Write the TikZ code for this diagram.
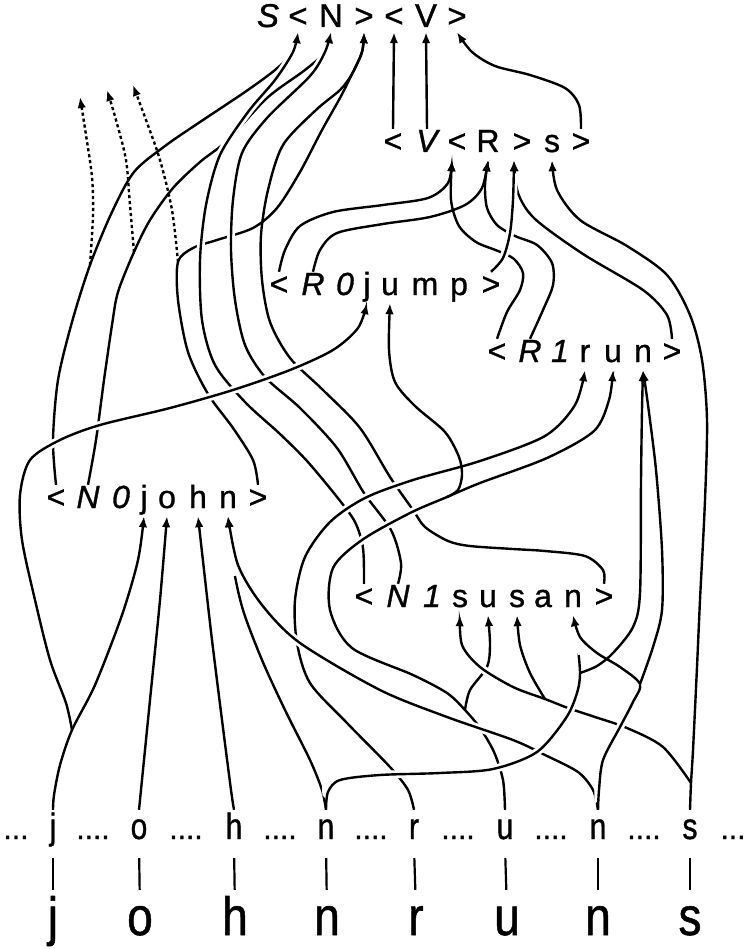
\documentclass[tikz,border=0pt]{standalone}
\usepackage{graphicx}
\usepackage{fontspec}
\setmainfont{Liberation Sans}[FakeBold=1]
\usetikzlibrary{arrows.meta}
\pgfdeclarelayer{bg}
\pgfsetlayers{bg,main}
\newcommand{\tallmid}[1]{\scalebox{1}[1.22]{#1}}
\newcommand{\tallbig}[1]{\scalebox{1}[1.17]{#1}}
\begin{document}
\begin{tikzpicture}[x=1pt,y=-1pt,
  chr/.style={anchor=base, inner sep=1pt, text height=22pt, text depth=7pt, font=\fontsize{32}{38}\selectfont},
  chrtop/.style={chr, text depth=4pt, font=\fontsize{33}{40}\selectfont},
  chrmid/.style={chr, text height=28pt, font=\fontsize{30}{36}\selectfont},
  chrbig/.style={chr, font=\fontsize{46}{54}\selectfont},
  strand/.style={line width=2.4pt, -{Latex[length=11pt,width=8.5pt]}},
  dotline/.style={strand, dash pattern=on 3.2pt off 2.8pt},
  halo/.style 2 args={preaction={draw=white, -, line width=8pt, shorten <=#1, shorten >=#2}},
  bar/.style={line width=2.2pt, shorten <=11pt, shorten >=22pt}]
\useasboundingbox (0,0) rectangle (747,949);
% ---------- top word ----------
\node[chrtop] (tS)   at (268,27) {\itshape S};
\node[chrtop] (tlt1) at (298,27) {<};
\node[chrtop] (tN)   at (331,27) {N};
\node[chrtop] (tgt1) at (364,27) {>};
\node[chrtop] (tlt2) at (394,27) {<};
\node[chrtop] (tV)   at (426,27) {V};
\node[chrtop] (tgt2) at (457,27) {>};
% ---------- <V<R>s> ----------
\node[chr] (vlt1) at (393,152) {<};
\node[chr] (vV)   at (427,152) {\itshape V};
\node[chr] (vlt2) at (457,152) {<};
\node[chr] (vR)   at (488,152) {R};
\node[chr] (vgt1) at (522,152) {>};
\node[chr] (vs)   at (552,152) {s};
\node[chr] (vgt2) at (581,152) {>};
% ---------- <R0jump> ----------
\node[chr] (alt) at (279,295) {<};
\node[chr] (aR)  at (313,295) {\itshape R};
\node[chr] (a0)  at (345,295) {\itshape 0};
\node[chr] (aj)  at (367,295) {j};
\node[chr] (au)  at (390,295) {u};
\node[chr] (am)  at (425,295) {m};
\node[chr] (ap)  at (459,295) {p};
\node[chr] (agt) at (491,295) {>};
% ---------- <R1run> ----------
\node[chr] (blt) at (497,362) {<};
\node[chr] (bR)  at (530,362) {\itshape R};
\node[chr] (b1)  at (560,362) {\itshape 1};
\node[chr] (br)  at (585,362) {r};
\node[chr] (bu)  at (613,362) {u};
\node[chr] (bn)  at (643,362) {n};
\node[chr] (bgt) at (672,362) {>};
% ---------- <N0john> ----------
\node[chr] (clt) at (56,508) {<};
\node[chr] (cN)  at (88,508) {\itshape N};
\node[chr] (c0)  at (121,508) {\itshape 0};
\node[chr] (cj)  at (144,508) {j};
\node[chr] (co)  at (167,508) {o};
\node[chr] (ch)  at (198,508) {h};
\node[chr] (cn)  at (228,508) {n};
\node[chr] (cgt) at (258,508) {>};
% ---------- <N1susan> ----------
\node[chr] (dlt) at (364,607) {<};
\node[chr] (dN)  at (398,607) {\itshape N};
\node[chr] (d1)  at (432,607) {\itshape 1};
\node[chr] (ds1) at (460,607) {s};
\node[chr] (du)  at (488,607) {u};
\node[chr] (ds2) at (517,607) {s};
\node[chr] (da)  at (543,607) {a};
\node[chr] (dn)  at (573,607) {n};
\node[chr] (dgt) at (604,607) {>};
% ---------- middle row ----------
\node[chrmid] (md0) at (16,839) {...};
\node[chrmid] (mj)  at (53,839) {\tallmid{j}};
\node[chrmid] (md1) at (93,839) {....};
\node[chrmid] (mo)  at (139,839) {\tallmid{o}};
\node[chrmid] (md2) at (186,839) {....};
\node[chrmid] (mh)  at (234,839) {\tallmid{h}};
\node[chrmid] (md3) at (280,839) {....};
\node[chrmid] (mn1) at (326,839) {\tallmid{n}};
\node[chrmid] (md4) at (371,839) {....};
\node[chrmid] (mr)  at (414,839) {\tallmid{r}};
\node[chrmid] (md5) at (458,839) {....};
\node[chrmid] (mu)  at (505,839) {\tallmid{u}};
\node[chrmid] (md6) at (551,839) {....};
\node[chrmid] (mn2) at (598,839) {\tallmid{n}};
\node[chrmid] (md7) at (644,839) {....};
\node[chrmid] (ms)  at (690,839) {\tallmid{s}};
\node[chrmid] (md8) at (733,839) {...};
% ---------- bottom word ----------
\node[chrbig] (wj)  at (53,935) {\tallbig{j}};
\node[chrbig] (wo)  at (140,935) {\tallbig{o}};
\node[chrbig] (wh)  at (235,935) {\tallbig{h}};
\node[chrbig] (wn1) at (327,935) {\tallbig{n}};
\node[chrbig] (wr)  at (416,935) {\tallbig{r}};
\node[chrbig] (wu)  at (507,935) {\tallbig{u}};
\node[chrbig] (wn2) at (598,935) {\tallbig{n}};
\node[chrbig] (ws)  at (690,935) {\tallbig{s}};
% ---------- junction coordinates ----------
\coordinate (jb)  at (72,730);
\coordinate (hu1) at (465,710);
\coordinate (hu2) at (447,497);
\coordinate (sm)  at (691,783);
\coordinate (sk)  at (545,699);
\coordinate (mm)  at (580,673);
\coordinate (nn)  at (640,684);
\coordinate (d1p) at (90,265);
\coordinate (d2p) at (134,252);
\coordinate (d3p) at (178,262);
\coordinate (e1)  at (80,97);
\coordinate (e2)  at (107,90);
\coordinate (e3)  at (133,85);
\begin{pgfonlayer}{bg}
\fill[white] (0,0) rectangle (747,949);
% bars
\foreach \a/\b in {mj/wj,mo/wo,mh/wh,mn1/wn1,mr/wr,mu/wu,mn2/wn2,ms/ws}
  \draw[bar] (\a.south) -- (\b.north);
% strands to the top word (under)
\draw[strand] plot[smooth] coordinates {(clt.north) (53,440) (58,380) (72,322) (d1p) (112,212) (134,172) (165,146) (200,122) (245,92) (275,70) (293,52) (tlt1.south)};
\draw[strand] plot[smooth] coordinates {(cN.north) (96,440) (104,380) (112,325) (118,292) (d2p) (150,220) (173,188) (200,162) (228,140) (267,98) (305,70) (325,52) (tN.south)};
\draw[strand] plot[smooth] coordinates {(cgt.north) (253,460) (233,428) (208,394) (188,352) (178,300) (d3p) (193,248) (217,240) (253,228) (277,208) (300,172) (322,130) (340,98) (352,74) (362,52) (tgt1.south)};
\draw[strand] plot[smooth] coordinates {(dgt.north) (603,570) (585,556) (545,551) (513,549) (470,546) (448,541) (425,527) (413,510) (390,477) (360,428) (323,390) (290,358) (270,322) (262,280) (261,235) (268,190) (283,145) (316,110) (340,90) (352,74) (362,52) (tgt1.south)};
\draw[dotline] plot[smooth] coordinates {(d1p) (93,215) (92,177) (86,135) (e1)};
\draw[dotline] plot[smooth] coordinates {(d2p) (130,205) (126,160) (116,120) (e2)};
\draw[dotline] plot[smooth] coordinates {(d3p) (172,210) (160,160) (146,120) (e3)};
\draw[strand, halo={14pt}{30pt}] plot[smooth] coordinates {(dlt.north) (363,548) (355,522) (337,497) (307,461) (280,434) (245,402) (215,365) (202,320) (200,260) (206,205) (220,155) (248,112) (275,80) (293,52) (tlt1.south)};
\draw[strand, halo={14pt}{30pt}] plot[smooth] coordinates {(dN.north) (401,563) (391,530) (364,493) (337,448) (300,408) (265,377) (245,345) (235,300) (231,250) (233,200) (242,153) (267,118) (310,76) (325,52) (tN.south)};
% into <N0john>
\draw[strand] plot[smooth] coordinates {(mj.north) (54,795) (60,765) (jb) (95,685) (122,615) (138,560) (cj.south)};
\draw[strand] plot[smooth] coordinates {(mo.north) (150,700) (160,600) (co.south)};
\draw[strand] plot[smooth] coordinates {(mh.north) (231,790) (222,720) (212,640) (204,570) (ch.south)};
\draw[strand] plot[smooth] coordinates {(mn1.north) (322,790) (310,760) (285,710) (262,660) (243,610) (233,565) (cn.south)};
% <V<R>s> to top
\draw[strand] (vlt1.north) -- (tlt2.south);
\draw[strand] (vV.north) -- (tV.south);
\draw[strand] plot[smooth] coordinates {(vgt2.north) (579,105) (565,88) (530,75) (495,66) (472,52) (tgt2.south)};
% into <V<R>s>
\draw[strand] plot[smooth] coordinates {(alt.north) (285,250) (300,226) (333,212) (383,205) (428,198) (448,183) ([xshift=-5pt]vlt2.south)};
\draw[strand] plot[smooth] coordinates {(aR.north) (320,250) (337,233) (383,224) (430,217) (465,205) (482,188) (vR.south)};
\draw[strand] plot[smooth] coordinates {(bR.north) (543,310) (553,285) (552,263) (537,245) (515,236) (497,225) (487,208) (485,185) (vR.south)};
\draw[strand] plot[smooth] coordinates {(blt.north) (507,312) (520,290) (523,273) (514,259) (498,251) (476,242) (459,226) (451,200) ([xshift=-5pt]vlt2.south)};
\draw[strand] plot[smooth] coordinates {(bgt.north) (667,315) (643,290) (583,254) (535,219) (518,193) ([xshift=-8pt]vgt1.south)};
\draw[strand] plot[smooth] coordinates {(ms.north) (sm) (693,750) (697,667) (700,600) (705,500) (707,420) (702,360) (690,315) (667,275) (627,246) (580,220) (557,190) (vs.south)};
% S-curves to <R1run>
\draw[strand, halo={14pt}{14pt}] plot[smooth] coordinates {(mr.north) (408,790) (390,767) (347,723) (310,683) (297,643) (295,600) (305,557) (330,522) (365,498) (413,480) (480,461) (545,436) (575,405) (br.south)};
\draw[strand, halo={14pt}{14pt}] plot[smooth] coordinates {(mu.north) (503,780) (494,752) (480,728) (hu1) (447,693) (413,675) (352,648) (330,610) (333,568) (362,540) (410,513) (hu2) (480,483) (547,458) (594,431) (609,400) (bu.south)};
\draw[strand] plot[smooth] coordinates {(hu2) (458,490) (462,475) (459,457) (445,432) (415,406) (395,382) (389,350) (au.south)};
\draw[strand, halo={30pt}{60pt}] plot[smooth] coordinates {(mn2.north) (593,790) (578,772) (545,755) (513,740) (447,717) (380,690) (300,643) (262,605) (238,565) (cn.south)};
\draw[strand, halo={22pt}{20pt}] plot[smooth] coordinates {(jb) (66,703) (50,660) (35,600) (22,540) (20,495) (30,460) (60,440) (100,425) (170,408) (233,390) (290,370) (333,350) (358,328) (aj.south)};
\draw[strand, halo={10pt}{20pt}] plot[smooth] coordinates {(agt.north) (503,258) (510,233) (513,200) ([xshift=-8pt]vgt1.south)};
% into <N1susan> and <R1run> n
\draw[strand] plot[smooth] coordinates {(hu1) (470,690) (487,667) (490,645) (du.south)};
\draw[strand, halo={20pt}{20pt}] plot[smooth] coordinates {(sm) (663,747) (627,728) (595,717) (568,708) (sk) (513,687) (480,667) (462,645) (ds1.south)};
\draw[strand] plot[smooth] coordinates {(sk) (530,673) (520,645) (ds2.south)};
\draw[strand, halo={30pt}{40pt}] plot[smooth] coordinates {(mn1.north) (328,792) (340,780) (380,775) (440,773) (493,769) (537,752) (566,718) (577,693) (mm) (577,640) (dn.south)};
\draw[strand, halo={30pt}{40pt}] plot[smooth] coordinates {(mn2.north) (599,790) (603,760) (620,727) (633,702) (nn) (620,667) (597,653) (580,637) (dn.south)};
\draw[strand] plot[smooth] coordinates {(nn) (653,647) (662,610) (662,550) (656,470) (648,405) (bn.south)};
\draw[strand] plot[smooth] coordinates {(mm) (597,666) (613,653) (633,627) (640,593) (641,480) (642,410) (bn.south)};
\end{pgfonlayer}
\end{tikzpicture}
\end{document}
